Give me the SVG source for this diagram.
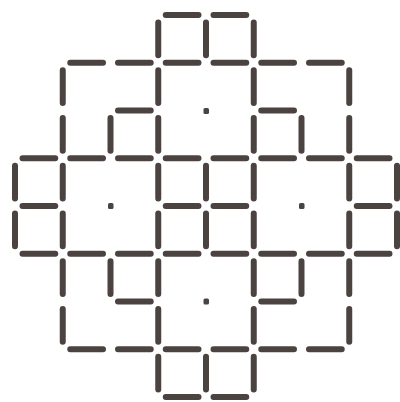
<svg xmlns="http://www.w3.org/2000/svg" width="400" height="402" viewBox="0 0 400 402">
<style>
.d{fill:none;stroke:#4b4340;stroke-width:6;stroke-linecap:round}
.p{fill:#4b4340}
</style>
<rect width="400" height="402" fill="#ffffff"/>
<g id="horizontal-dashes">
<path class="d" d="M165.75 15H198.5M213.5 15H246.25
M70.25 62.75H103M118 62.75H150.75M165.75 62.75H198.5M213.5 62.75H246.25M261.25 62.75H294M309 62.75H341.75
M118 110.5H150.75M261.25 110.5H294
M22.5 158.25H55.25M70.25 158.25H103M118 158.25H150.75M165.75 158.25H198.5M213.5 158.25H246.25M261.25 158.25H294M309 158.25H341.75M356.75 158.25H389.5
M22.5 206H55.25M165.75 206H198.5M213.5 206H246.25M356.75 206H389.5
M22.5 253.75H55.25M70.25 253.75H103M118 253.75H150.75M165.75 253.75H198.5M213.5 253.75H246.25M261.25 253.75H294M309 253.75H341.75M356.75 253.75H389.5
M118 301.5H150.75M261.25 301.5H294
M70.25 349.25H103M118 349.25H150.75M165.75 349.25H198.5M213.5 349.25H246.25M261.25 349.25H294M309 349.25H341.75
M165.75 397H198.5M213.5 397H246.25"/>
</g>
<g id="vertical-dashes">
<path class="d" d="M15 165.75V198.5M15 213.5V246.25
M62.75 70.25V103M62.75 118V150.75M62.75 165.75V198.5M62.75 213.5V246.25M62.75 261.25V294M62.75 309V341.75
M110.5 118V150.75M110.5 261.25V294
M158.25 22.5V55.25M158.25 70.25V103M158.25 118V150.75M158.25 165.75V198.5M158.25 213.5V246.25M158.25 261.25V294M158.25 309V341.75M158.25 356.75V389.5
M206 22.5V55.25M206 165.75V198.5M206 213.5V246.25M206 356.75V389.5
M253.75 22.5V55.25M253.75 70.25V103M253.75 118V150.75M253.75 165.75V198.5M253.75 213.5V246.25M253.75 261.25V294M253.75 309V341.75M253.75 356.75V389.5
M301.5 118V150.75M301.5 261.25V294
M349.25 70.25V103M349.25 118V150.75M349.25 165.75V198.5M349.25 213.5V246.25M349.25 261.25V294M349.25 309V341.75
M397 165.75V198.5M397 213.5V246.25"/>
</g>
<g id="dots">
<rect class="p" x="203.5" y="108" width="5.5" height="6" rx="1.5"/>
<rect class="p" x="108" y="203" width="5.5" height="6" rx="1.5"/>
<rect class="p" x="299" y="203" width="5.5" height="6" rx="1.5"/>
<rect class="p" x="203.5" y="298.5" width="5.5" height="6" rx="1.5"/>
</g>
</svg>
